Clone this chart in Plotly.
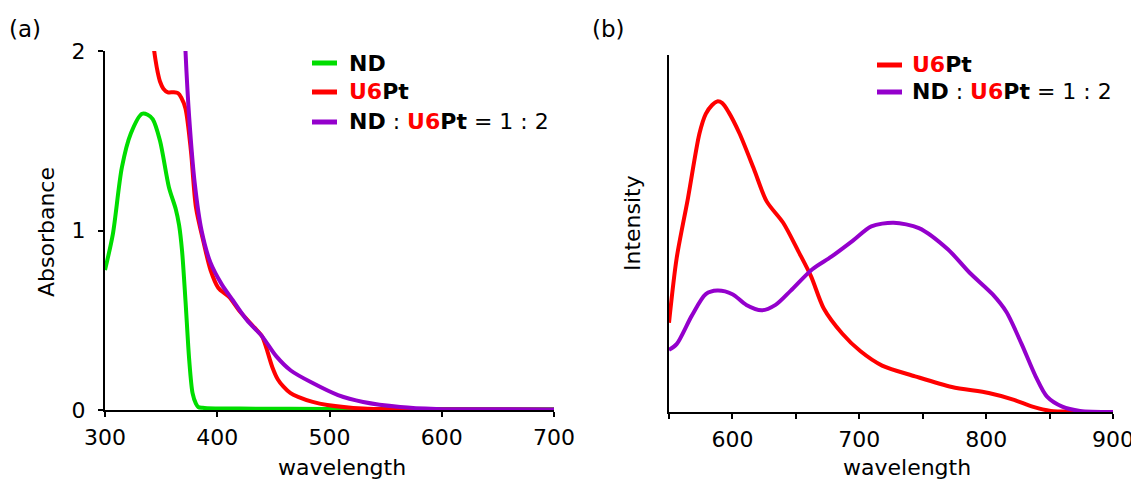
import plotly.graph_objects as go

# page body has an 8px margin, so the figure is 8px smaller and shifted
OFF = 8
W, H = 1139 - OFF, 485 - OFF
FONT = "DejaVu Sans"

# ---- Panel (a): absorbance ----
nd_wl = [300, 307, 315, 323, 333, 338, 342.5, 349, 357, 363, 366, 368.6, 371.7, 375, 378, 381, 383, 387, 391, 420, 500, 600, 700]
nd_abs = [0.78, 0.98, 1.35, 1.54, 1.65, 1.645, 1.62, 1.50, 1.24, 1.12, 1.03, 0.89, 0.61, 0.28, 0.094, 0.035, 0.017, 0.012, 0.01, 0.008, 0.006, 0.005, 0.004]

u6_wl = [341, 343, 345, 347, 349, 352, 356, 361, 365, 368, 371.7, 376.6, 381, 388, 394, 401, 410.5, 420, 433, 440, 444, 449, 454, 459, 465, 472, 485, 498, 530, 560, 600, 700]
u6_abs = [2.15, 2.04, 1.95, 1.88, 1.83, 1.79, 1.77, 1.77, 1.765, 1.74, 1.68, 1.44, 1.13, 0.93, 0.78, 0.68, 0.63, 0.55, 0.46, 0.41, 0.34, 0.24, 0.17, 0.13, 0.095, 0.073, 0.045, 0.028, 0.008, 0.004, 0.003, 0.002]

mix_wl = [370.5, 371.7, 375, 380, 386, 394, 404, 414, 426.5, 440, 452.5, 465.5, 485, 507.6, 530, 563, 595, 650, 700]
mix_abs = [2.2, 2.0, 1.63, 1.26, 1.0, 0.82, 0.70, 0.61, 0.50, 0.41, 0.30, 0.22, 0.15, 0.083, 0.045, 0.017, 0.006, 0.004, 0.003]

# ---- Panel (b): emission intensity (arbitrary units) ----
u6_em_wl = [550, 556, 565, 574, 579, 584, 588, 592, 597, 605.6, 617, 627, 640, 652, 662, 672, 686.5, 701, 718, 744, 773, 802, 822, 836.5, 851, 870, 900]
u6_em = [0.25, 0.43, 0.60, 0.78, 0.835, 0.86, 0.87, 0.865, 0.84, 0.78, 0.68, 0.59, 0.53, 0.45, 0.38, 0.29, 0.22, 0.17, 0.13, 0.10, 0.07, 0.053, 0.034, 0.015, 0.003, 0.001, 0.0]

mix_em_wl = [550, 556, 568, 579, 588, 600, 611, 623, 634, 646, 663, 678, 695, 709.5, 727, 747, 770, 787, 805, 816, 828, 839, 848, 860, 874, 900]
mix_em = [0.174, 0.19, 0.27, 0.33, 0.34, 0.33, 0.30, 0.285, 0.30, 0.34, 0.40, 0.435, 0.48, 0.52, 0.53, 0.515, 0.455, 0.39, 0.33, 0.28, 0.19, 0.10, 0.043, 0.015, 0.003, 0.0]

a_xticks = [300, 400, 500, 600, 700]
a_yticks = [0, 1, 2]
b_xticks = [550, 600, 650, 700, 750, 800, 850, 900]
b_xlabels = ["", "600", "", "700", "", "800", "", "900"]

GREEN = "#00DD00"
RED = "#FF0000"
PURPLE = "#9400CC"

fig = go.Figure()
lw = 4
line_kw = dict(width=lw, shape="spline", smoothing=0.8)
fig.add_trace(go.Scatter(x=nd_wl, y=nd_abs, mode="lines", line=dict(color=GREEN, **line_kw), xaxis="x", yaxis="y", showlegend=False))
fig.add_trace(go.Scatter(x=u6_wl, y=u6_abs, mode="lines", line=dict(color=RED, **line_kw), xaxis="x", yaxis="y", showlegend=False))
fig.add_trace(go.Scatter(x=mix_wl, y=mix_abs, mode="lines", line=dict(color=PURPLE, **line_kw), xaxis="x", yaxis="y", showlegend=False))
fig.add_trace(go.Scatter(x=u6_em_wl, y=u6_em, mode="lines", line=dict(color=RED, **line_kw), xaxis="x2", yaxis="y2", showlegend=False))
fig.add_trace(go.Scatter(x=mix_em_wl, y=mix_em, mode="lines", line=dict(color=PURPLE, **line_kw), xaxis="x2", yaxis="y2", showlegend=False))

def px(x):
    return (x - OFF) / W

def py(y):
    return 1 - (y - OFF) / H

tickfont = dict(family=FONT, size=22, color="black")
axis_common = dict(showline=True, linecolor="black", linewidth=2, ticks="outside",
                   tickcolor="black", tickwidth=2, ticklen=5, showgrid=False, zeroline=False,
                   tickfont=tickfont, automargin=False)

fig.update_layout(
    width=W, height=H,
    margin=dict(l=0, r=0, t=0, b=0, pad=0, autoexpand=False),
    paper_bgcolor="white", plot_bgcolor="white",
    xaxis=dict(domain=[px(105), px(554)], range=[300, 700], tickvals=a_xticks,
               anchor="y", ticklabelstandoff=2, **axis_common),
    yaxis=dict(domain=[py(410), py(51)], range=[0, 2], tickvals=a_yticks,
               anchor="x", ticklabelstandoff=8, **axis_common),
    xaxis2=dict(domain=[px(669), px(1113)], range=[550, 900], tickvals=b_xticks,
                ticktext=b_xlabels, anchor="y2", ticklabelstandoff=2, **axis_common),
    yaxis2=dict(domain=[py(412), py(55)], range=[0, 1], anchor="x2",
                showline=True, linecolor="black", linewidth=2, ticks="",
                showticklabels=False, showgrid=False, zeroline=False, automargin=False),
    showlegend=False,
)

ann = []
def text(x, y, s, size=22, angle=0, xanchor="center"):
    ann.append(dict(x=px(x), y=py(y), xref="paper", yref="paper", text=s, showarrow=False,
                    textangle=angle, xanchor=xanchor, yanchor="middle",
                    font=dict(family=FONT, size=size, color="black")))

text(25, 29, "(a)", size=23)
text(608, 29, "(b)", size=23)
text(47, 232, "Absorbance", angle=-90)
text(632, 223, "Intensity", angle=-90)
text(342, 467, "wavelength")
text(907, 467, "wavelength")

u6 = "<span style='color:#FF0000'>U6</span>Pt"
mixlab = "<b>ND</b> : <b>" + u6 + "</b> = 1 : 2"

# legend (a)
leg_a = [(63, GREEN, "<b>ND</b>"), (92, RED, "<b>" + u6 + "</b>"), (122, PURPLE, mixlab)]
shapes = []
for y, c, s in leg_a:
    shapes.append(dict(type="line", xref="paper", yref="paper", x0=px(312), x1=px(337),
                       y0=py(y), y1=py(y), line=dict(color=c, width=5)))
    text(347, y, s, xanchor="left")
# legend (b)
leg_b = [(65, RED, "<b>" + u6 + "</b>"), (92, PURPLE, mixlab)]
for y, c, s in leg_b:
    shapes.append(dict(type="line", xref="paper", yref="paper", x0=px(877), x1=px(902),
                       y0=py(y), y1=py(y), line=dict(color=c, width=5)))
    text(910, y, s, xanchor="left")

fig.update_layout(annotations=ann, shapes=shapes)
fig.write_html("out.html")
